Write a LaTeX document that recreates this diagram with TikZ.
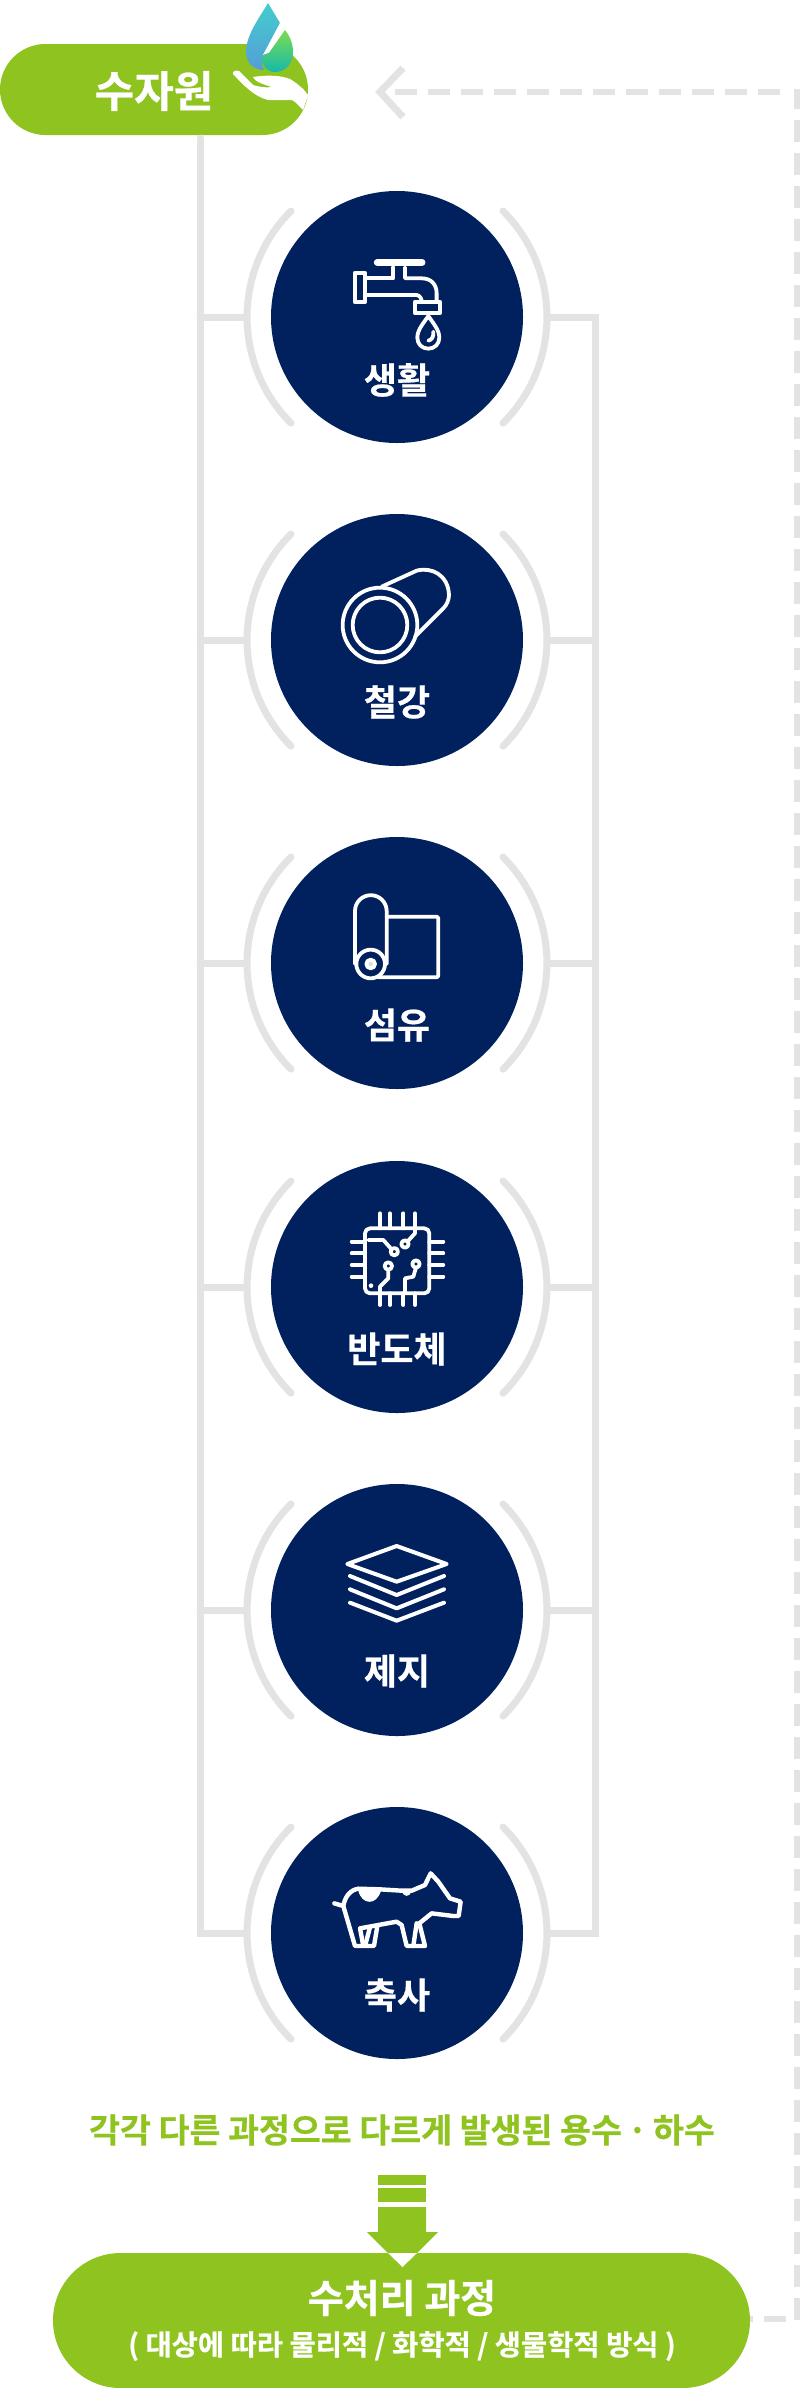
\documentclass[tikz,border=0pt]{standalone}
\usepackage{fontspec}
\setmainfont{Noto Sans CJK KR}[BoldFont={Noto Sans CJK KR Bold}, BoldFeatures={FakeBold=0.5}]
\usetikzlibrary{shapes.misc,calc}
\definecolor{leafgreen}{RGB}{143,195,31}
\definecolor{deepnavy}{RGB}{0,32,94}
\definecolor{linegray}{RGB}{227,227,227}
\definecolor{dropteal}{RGB}{68,205,205}
\definecolor{dropblue}{RGB}{84,158,215}
\definecolor{droplime}{RGB}{125,220,80}
\definecolor{dropsea}{RGB}{20,185,170}
\tikzset{
  pillbox/.style={draw=none, fill=leafgreen, shape=rounded rectangle, inner sep=0pt},
  sector/.style={draw=none, fill=deepnavy, shape=circle, inner sep=0pt, minimum size=252pt},
  sectortext/.style={text=white, font=\bfseries\fontsize{36}{36}\selectfont, inner sep=0pt},
  guide/.style={draw=linegray, line width=7pt, line cap=round},
  returnline/.style={draw=linegray, line width=6pt, dash pattern=on 22pt off 11pt},
  icon/.style={x=.3333pt, y=-.3333pt, draw=white, line width=3.8pt, line join=round, line cap=round},
}
\newcommand{\bracketarcs}[1]{
  \coordinate (#1-l) at ($(#1)+(-150,0)$);
  \coordinate (#1-r) at ($(#1)+(150,0)$);
  \draw[guide] ($(#1)+(-106,-106)$) arc[start angle=225, end angle=135, radius=150];
  \draw[guide] ($(#1)+(106,-106)$) arc[start angle=-45, end angle=45, radius=150];
}
\begin{document}
\begin{tikzpicture}[x=1pt, y=-1pt]
\useasboundingbox (0,0) rectangle (800,2388);
% sectors
\node[sector] (life) at (397,317) {};
\node[sector] (steel) at (397,640) {};
\node[sector] (fabric) at (397,963) {};
\node[sector] (chip) at (397,1287) {};
\node[sector] (paper) at (397,1610) {};
\node[sector] (farm) at (397,1933) {};
\node[sectortext] (lifetext) at (397,380) {생활};
\node[sectortext] (steeltext) at (397,702) {철강};
\node[sectortext] (fabrictext) at (397,1025) {섬유};
\node[sectortext] (chiptext) at (397,1349) {반도체};
\node[sectortext] (papertext) at (397,1671) {제지};
\node[sectortext] (farmtext) at (397,1995) {축사};
\bracketarcs{life}
\bracketarcs{steel}
\bracketarcs{fabric}
\bracketarcs{chip}
\bracketarcs{paper}
\bracketarcs{farm}
% source and treatment
\node[pillbox, minimum width=308pt, minimum height=91pt] (source) at (154,89.5) {};
\node[text=white, font=\bfseries\fontsize{43}{43}\selectfont, inner sep=0pt] (sourcetext) at (154,91) {수자원};
\node[pillbox, minimum width=697pt, minimum height=135pt] (plant) at (401.5,2320.5) {};
\node[text=white, font=\bfseries\fontsize{39}{39}\selectfont, inner sep=0pt] (planttext) at (402,2298) {수처리 과정};
\node[text=white, font=\bfseries\fontsize{28.5}{28.5}\selectfont, inner sep=0pt] (plantsub) at (402,2346) {( 대상에 따라 물리적 / 화학적 / 생물학적 방식 )};
\node[text=leafgreen, font=\bfseries\fontsize{33.6}{33.6}\selectfont, inner sep=0pt] (wastetext) at (402,2130) {각각 다른 과정으로 다르게 발생된 용수\,·\,하수};
% guide lines
\coordinate (spinetop) at (200,138);
\coordinate (rightrail) at (595,317);
\draw[guide] (spinetop) -- (spinetop |- farm-l) -- (farm-l);
\draw[guide] (spinetop |- life-l) -- (life-l);
\draw[guide] (spinetop |- steel-l) -- (steel-l);
\draw[guide] (spinetop |- fabric-l) -- (fabric-l);
\draw[guide] (spinetop |- chip-l) -- (chip-l);
\draw[guide] (spinetop |- paper-l) -- (paper-l);
\draw[guide] (life-r) -- (rightrail) -- (rightrail |- farm-r) -- (farm-r);
\draw[guide] (steel-r) -- (rightrail |- steel-r);
\draw[guide] (fabric-r) -- (rightrail |- fabric-r);
\draw[guide] (chip-r) -- (rightrail |- chip-r);
\draw[guide] (paper-r) -- (rightrail |- paper-r);
% return line
\coordinate (returnlow) at (797,2320);
\coordinate (returnhigh) at (797,89);
\coordinate (returnstop) at (786,2319);
\coordinate (returnfrom) at (780,92);
\coordinate (returnend) at (395,92);
\coordinate (tipup) at (403,68);
\coordinate (tipmid) at (380,92);
\coordinate (tipdown) at (403,117);
\draw[returnline, dash phase=19pt] (plant.east |- returnstop) -- (returnstop);
\draw[returnline] (returnlow) -- (returnhigh);
\draw[returnline] (returnfrom) -- (returnend);
\draw[draw=linegray, line width=7pt, miter limit=10] (tipup) -- (tipmid) -- (tipdown);
% down arrow
\fill[leafgreen] (378,2175) rectangle (426,2185);
\fill[leafgreen] (378,2188) rectangle (426,2202);
\fill[leafgreen] (378,2207) -- (426,2207) -- (426,2232) -- (438,2232) -- (417,2253) -- (388,2253) -- (367,2232) -- (378,2232) -- cycle;
\fill[white] (388,2253) -- (417,2253) -- (402.5,2267) -- cycle;
% drop and hand
\shade[top color=dropteal, bottom color=dropblue] (268,3) .. controls (262,14) and (246,34) .. (246,52) .. controls (246,63) and (254,70) .. (264,70) .. controls (261,64) and (261,58) .. (263,55) -- (269,53) -- (280,23) -- cycle;
\fill[white] (263,55) -- (269,53) -- (285,30) -- (280,23) -- cycle;
\shade[top color=droplime, bottom color=dropsea] (285,30) .. controls (290,36) and (293,44) .. (293,52) .. controls (293,64) and (285,72) .. (275,72) .. controls (267,72) and (262,66) .. (262,58) .. controls (262,55) and (265,54) .. (269,53) -- cycle;
\fill[white] (233,74) .. controls (232,71) and (236,70) .. (239,71) -- (253,85) .. controls (260,87) and (266,88) .. (272,87) .. controls (265,85) and (255,82) .. (253,77) .. controls (265,75) and (280,75) .. (290,79) .. controls (298,84) and (304,89) .. (308,95) -- (303,110) .. controls (299,106) and (296,102) .. (292,100) -- (268,100) .. controls (255,97) and (243,85) .. cycle;
% faucet
\begin{scope}[shift={(220,180)}, icon]
\draw[line width=7pt] (472,247) -- (606,247);
\draw (520,262) -- (520,295) -- (435,295);
\draw (555,262) -- (555,295) -- (605,295) .. controls (635,295) and (650,315) .. (650,340) -- (650,365);
\draw (435,345) -- (590,345) .. controls (600,347) and (605,355) .. (605,365);
\draw (405,278) rectangle (435,367);
\draw (585,365) rectangle (660,400);
\draw (625,408) .. controls (610,430) and (592,450) .. (592,473) .. controls (592,492) and (606,506) .. (625,506) .. controls (644,506) and (658,492) .. (658,473) .. controls (658,450) and (640,430) .. cycle;
\draw (640,455) .. controls (642,470) and (635,480) .. (625,482);
\end{scope}
% pipe
\begin{scope}[shift={(300,540)}, icon]
\draw (240,255) circle[radius=112];
\draw (240,255) circle[radius=82];
\draw (245,140) -- (350,92) .. controls (395,80) and (445,105) .. (447,165) .. controls (447,180) and (440,195) .. (430,205) -- (345,290);
\end{scope}
% cloth
\begin{scope}[shift={(300,860)}, icon]
\draw (165,312) -- (165,153) arc[start angle=180, end angle=360, radius=47.5] -- (260,312);
\draw (212,312) circle[radius=43];
\fill[white!85!deepnavy, draw=white] (212,312) circle[radius=13];
\draw[rounded corners=2pt] (260,170) -- (415,170) -- (415,352) -- (235,352);
\end{scope}
% chip
\begin{scope}[shift={(300,1180)}, icon]
\draw[rounded corners=5pt] (195,145) rectangle (388,340);
\draw (240,100) -- (240,145) (270,100) -- (270,145) (310,100) -- (310,145) (345,100) -- (345,145);
\draw (240,340) -- (240,375) (270,340) -- (270,375) (310,340) -- (310,375) (345,340) -- (345,375);
\draw (155,185) -- (195,185) (155,220) -- (195,220) (155,255) -- (195,255) (155,290) -- (195,290);
\draw (388,185) -- (430,185) (388,220) -- (430,220) (388,255) -- (430,255) (388,290) -- (430,290);
\draw (345,145) -- (345,160) -- (322,185);
\draw (315,192) circle[radius=11];
\draw (205,180) -- (250,180) -- (274,207);
\draw (283,215) circle[radius=11];
\draw (265,258) circle[radius=11];
\draw (265,269) -- (265,295) -- (240,320) -- (240,340);
\draw (348,252) circle[radius=11];
\draw (348,263) -- (340,290) -- (315,295) -- (315,340);
\fill[white] (213,317) circle[radius=7];
\end{scope}
% paper
\begin{scope}[shift={(300,1500)}, icon, line width=4pt]
\draw (290,138) -- (440,192) -- (290,245) -- (142,192) -- cycle;
\draw (150,228) -- (290,285) -- (432,228);
\draw (150,268) -- (290,325) -- (432,268);
\draw (150,308) -- (290,362) -- (432,308);
\end{scope}
% cow
\begin{scope}[shift={(300,1830)}, icon, line width=4.4pt]
\draw (103,220) -- (130,228) .. controls (135,200) and (150,180) .. (175,176) -- (240,178) -- (305,182) -- (335,182) -- (375,165) -- (392,130) -- (415,155) -- (450,205) -- (482,215) -- (476,258) -- (460,258) -- (395,250) -- (358,280) -- (375,348) -- (320,348) -- (305,285) -- (290,275) -- (180,295) -- (190,348) -- (165,348) -- (130,228);
\draw (210,292) -- (195,348) -- (222,348) -- (232,288);
\draw (350,280) -- (340,348);
\fill[white] (175,182) .. controls (185,225) and (230,228) .. (243,182) -- cycle;
\fill[white] (305,184) .. controls (312,202) and (328,202) .. (335,184) -- cycle;
\end{scope}
\end{tikzpicture}
\end{document}
